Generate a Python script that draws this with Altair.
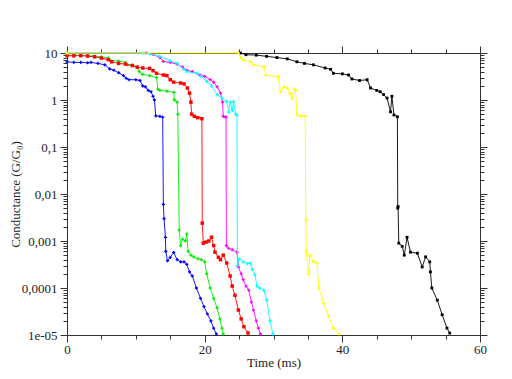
import altair as alt
import pandas as pd

# ---- data (time in ms, conductance in G0) ----
blue_t = [0, 1, 2, 3, 3.5, 4.5, 5.5, 6.2, 6.8, 7.5, 8.2, 8.6, 9, 10, 10.6, 11, 11.4, 11.8, 12.2, 12.5, 12.7,
          12.9, 13.5, 13.9, 14.0, 14.1, 14.3, 14.35, 14.6, 15.0, 15.5, 16.0, 16.5, 17.0, 17.4, 17.8, 18.2,
          18.8, 19.4, 19.9, 20.4, 20.9, 21.3, 21.7]
blue_g = [6.5, 6.3, 6.3, 6.2, 6.3, 6.0, 5.6, 4.6, 4.3, 3.8, 3.3, 2.9, 2.7, 2.7, 2.6, 2.0, 1.9, 1.6, 1.5, 1.2, 1.0,
          0.46, 0.45, 0.43, 0.006, 0.003, 0.0012, 0.0006, 0.00038, 0.00045, 0.00057, 0.0004, 0.00036, 0.00036,
          0.00032, 0.00022, 0.00018, 0.0001, 6e-5, 4e-5, 2.8e-5, 2e-5, 1.4e-5, 1.05e-5]

green_t = [0, 1, 2, 3, 4, 5, 6, 6.3, 7.5, 8.5, 8.8, 9.5, 10.2, 10.5, 11, 12, 13.0, 13.2, 13.5, 14.5, 15.5, 15.6,
           16.0, 16.1, 16.3, 16.5, 16.8, 17.2, 17.4, 17.6, 18.0, 18.4, 19.0, 19.5, 20.0, 20.3, 20.8, 21.3, 21.8,
           22.2, 22.5, 22.7]
green_g = [9.0, 9.0, 8.8, 8.7, 8.6, 8.3, 7.8, 7.0, 6.7, 6.3, 5.6, 5.5, 5.0, 4.0, 3.5, 3.3, 3.0, 1.7, 1.6, 1.55,
           1.45, 1.0, 0.9, 0.5, 0.0017, 0.0008, 0.0011, 0.001, 0.0014, 0.0006, 0.0005, 0.00046, 0.00042, 0.0004,
           0.00036, 0.0002, 0.0001, 6e-5, 3.8e-5, 2.2e-5, 1.4e-5, 1.05e-5]

red_t = [0, 1, 2, 3, 4, 5, 6, 6.5, 7.5, 8.5, 9.5, 10.2, 11, 12, 12.5, 13, 14, 14.5, 15, 15.5, 16.5, 17, 17.5,
         17.8, 18.0, 18.1, 18.5, 19.0, 19.6, 19.65, 19.8, 20.2, 20.6, 21.0, 21.3, 21.5, 22.0, 22.3, 22.7, 23.2,
         23.7, 24.0, 24.4, 24.9, 25.3, 25.7, 26.3]
red_g = [8.8, 8.7, 8.8, 8.6, 8.3, 7.8, 7.2, 6.5, 6.0, 5.8, 5.4, 5.0, 4.8, 4.7, 4.2, 3.7, 3.4, 3.3, 2.7, 2.4, 2.3,
         2.2, 1.8, 1.4, 0.9, 0.5, 0.45, 0.42, 0.4, 0.0024, 0.0009, 0.00095, 0.001, 0.0012, 0.0008, 0.00058,
         0.00045, 0.0004, 0.0005, 0.00034, 0.00018, 0.00011, 7e-5, 3.4e-5, 2.2e-5, 1.5e-5, 1.1e-5]

magenta_t = [0, 11.5, 12.5, 13.5, 14.0, 15, 16, 16.8, 17.4, 18.2, 19.3, 20, 20.8, 21.3, 21.8, 22.3, 22.6, 22.7,
             23.0, 23.1, 23.15, 23.5, 24.0, 24.7, 24.9, 25.3, 25.6, 26.0, 26.4, 26.8, 27.1, 27.5, 27.8, 28.1]
magenta_g = [10, 10, 9.3, 8.0, 6.6, 6.3, 5.8, 5.0, 4.3, 4.0, 3.4, 3.2, 2.7, 2.4, 1.9, 1.4, 0.9, 0.45, 0.44, 0.43,
             0.0008, 0.0007, 0.00065, 0.00058, 0.00028, 0.0002, 0.00015, 0.00011, 9e-5, 5e-5, 3.4e-5, 2e-5,
             1.4e-5, 1.05e-5]

cyan_t = [0, 11, 12, 13.5, 15, 16, 17, 17.4, 18.9, 19.5, 20.3, 21, 21.8, 22.5, 23.2, 23.5, 23.7, 24.0, 24.2,
          24.5, 24.7, 24.75, 25.0, 25.6, 26.2, 26.6, 26.9, 27.3, 27.6, 28.0, 28.6, 29.0, 29.5, 29.9]
cyan_g = [10, 10, 9.6, 8.5, 6.8, 6.0, 4.5, 4.0, 3.7, 3.2, 2.5, 2.0, 1.3, 1.1, 0.92, 0.55, 0.9, 0.6, 0.92, 0.5,
          0.48, 0.0003, 0.00042, 0.00036, 0.00033, 0.00034, 0.00025, 0.00019, 0.00011, 0.0001, 9e-5, 5.5e-5,
          2e-5, 1.05e-5]

yellow_t = [0, 24.9, 25.3, 25.6, 26.6, 27.1, 28.6, 28.9, 30.7, 31.0, 31.5, 32.0, 32.4, 32.7, 33.0, 33.2, 33.4,
            34.0, 34.6, 34.7, 34.75, 35.1, 35.3, 35.8, 36.3, 36.6, 37.3, 38.0, 38.7, 39.5]
yellow_g = [10, 10, 8.0, 7.1, 6.5, 5.6, 5.1, 3.4, 3.1, 1.5, 1.9, 1.8, 1.4, 1.1, 1.7, 1.6, 0.48, 0.46, 0.45,
            0.0028, 0.0006, 0.0002, 0.0005, 0.00036, 0.00034, 0.0001, 4.7e-5, 2.5e-5, 1.4e-5, 1.05e-5]

black_t = [25.2, 26.0, 27.5, 29, 30.5, 32, 33.4, 34.5, 35.8, 37.5, 38.3, 38.7, 40.0, 40.9, 41.4, 42.5, 43.6,
           44.1, 45.0, 45.5, 46.0, 46.5, 47.0, 47.2, 47.5, 48.0, 48.05, 48.1, 48.2, 48.7, 49.0, 49.4, 49.9, 50.9,
           51.6, 52.1, 52.7, 52.8, 53.0, 53.8, 54.5, 55.2, 55.6]
black_g = [10, 9.2, 9.0, 8.5, 8.0, 7.5, 6.5, 6.0, 5.6, 4.8, 4.5, 3.7, 3.6, 3.4, 2.8, 2.6, 2.7, 1.8, 1.6, 1.5,
           1.3, 1.1, 0.56, 1.2, 0.48, 0.44, 0.005, 0.0054, 0.0009, 0.00077, 0.0005, 0.0012, 0.00058, 0.00055,
           0.00028, 0.00046, 0.00036, 0.00022, 0.0001, 5.5e-5, 2.7e-5, 1.4e-5, 1.1e-5]

series = [
    ("blue", blue_t, blue_g, "#0000ff", "cross", 10),
    ("green", green_t, green_g, "#00ee00", "cross", 10),
    ("red", red_t, red_g, "#ff0000", "square", 12),
    ("magenta", magenta_t, magenta_g, "#ff00ff", "cross", 10),
    ("cyan", cyan_t, cyan_g, "#00ffff", "cross", 10),
    ("black", black_t, black_g, "#000000", "square", 8),
    ("yellow", yellow_t, yellow_g, "#ffff00", "cross", 10),
]

x_ticks = list(range(0, 61, 5))
y_ticks = [float(f"{m}e{e}") for e in range(-5, 1) for m in range(1, 10)] + [10.0]
y_labels = ["1e-05", "0,0001", "0,001", "0,01", "0,1", "1", "10"]

FONT = "Liberation Serif, Times New Roman, DejaVu Serif, serif"
AX = "#333333"
xscale = alt.Scale(domain=[0, 60], nice=False, zero=False)
yscale = alt.Scale(type="log", domain=[1e-5, 10], nice=False)

major_y = "abs(log(datum.value)/LN10 - round(log(datum.value)/LN10)) < 0.001"
label_arr = "[" + ",".join(f"'{s}'" for s in y_labels) + "]"

common = dict(grid=False, domainColor=AX, tickColor=AX, labelOverlap=False, labelFlush=False,
              labelFont=FONT, labelFontSize=13, labelColor="#222222",
              titleFont=FONT, titleFontSize=13, titleFontWeight="normal", titleColor="#222222")

x_bottom = alt.Axis(values=x_ticks, orient="bottom", title="Time (ms)",
                    labelExpr="datum.value % 20 === 0 ? datum.label : ''",
                    tickSize={"condition": {"test": "datum.value % 20 === 0", "value": 7}, "value": 4},
                    labelPadding=1, titleY=21, titleBaseline="top", **common)
x_top = alt.Axis(values=x_ticks, orient="top", title=None, labels=False,
                 tickSize={"condition": {"test": "datum.value % 20 === 0", "value": 7}, "value": 4},
                 **common)
y_left = alt.Axis(values=y_ticks, orient="left", title="Conductance (G/G₀)",
                  labelExpr=f"({major_y}) ? {label_arr}[round(log(datum.value)/LN10)+5] : ''",
                  tickSize={"condition": {"test": major_y, "value": 7}, "value": 4},
                  labelPadding=3, titleX=-45, titleY=141, titleBaseline="bottom", titleAngle=270,
                  titleAlign="center", **common)
y_right = alt.Axis(values=y_ticks, orient="right", title=None, labels=False,
                   tickSize={"condition": {"test": major_y, "value": 7}, "value": 4}, **common)

layers = []
for k, (name, ts, gs, col, shape, size) in enumerate(series):
    df = pd.DataFrame({"t": ts, "G": gs, "i": list(range(len(ts)))})
    xa = x_bottom if k == 0 else None
    ya = y_left if k == 0 else None
    base = alt.Chart(df)
    line = base.mark_line(color=col, strokeWidth=0.9).encode(
        x=alt.X("t:Q", scale=xscale, axis=xa),
        y=alt.Y("G:Q", scale=yscale, axis=ya),
        order="i:Q",
    )
    pts = base.mark_point(color=col, shape=shape, size=size, filled=True, opacity=1).encode(
        x=alt.X("t:Q", scale=xscale, axis=None),
        y=alt.Y("G:Q", scale=yscale, axis=None),
    )
    layers += [line, pts]

frame_df = pd.DataFrame({"t": [0, 60], "G": [1e-5, 10]})
frame = alt.Chart(frame_df).mark_point(opacity=0).encode(
    x=alt.X("t:Q", scale=xscale, axis=x_top),
    y=alt.Y("G:Q", scale=yscale, axis=y_right),
)
layers.append(frame)

chart = alt.layer(*layers).resolve_axis(x="independent", y="independent").properties(
    width=413, height=282,
    autosize=alt.AutoSizeParams(type="none"),
    padding={"left": 59, "top": 45, "right": 24, "bottom": 36},
    background="white",
).configure_view(stroke=None)

chart.save("out.html", embed_options={"renderer": "svg", "actions": False})
